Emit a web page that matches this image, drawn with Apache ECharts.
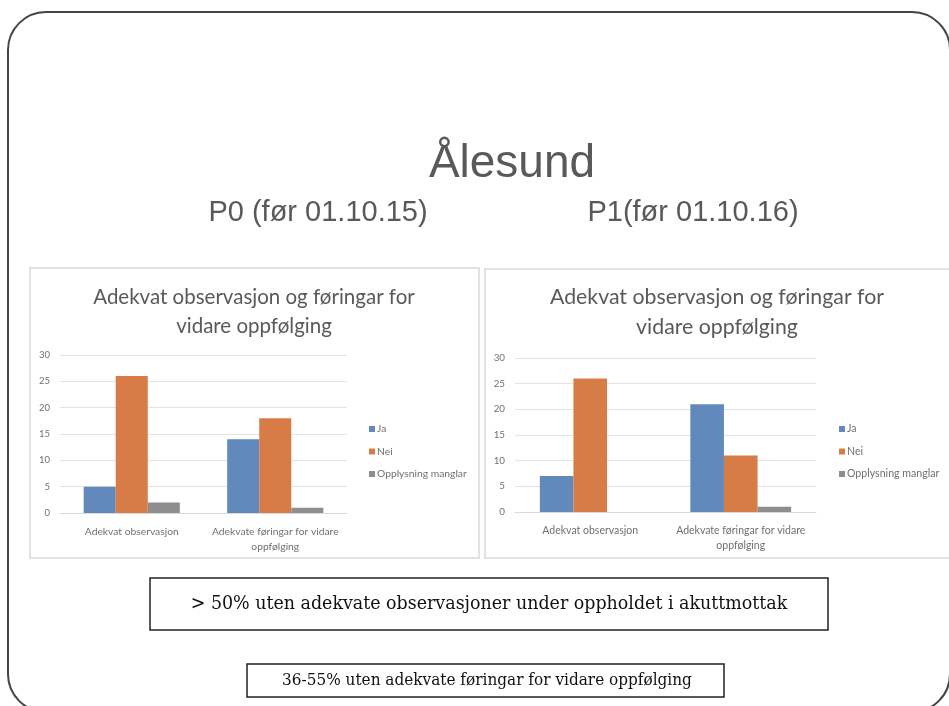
<!DOCTYPE html>
<html>
<head>
<meta charset="utf-8">
<script src="https://cdn.jsdelivr.net/npm/echarts@6/dist/echarts.min.js"></script>
<style>
  html, body { margin: 0; padding: 0; background: #fff; }
  #main { width: 949px; height: 706px; }
</style>
</head>
<body>
<div id="main"></div>
<script>
// Categories and series shared by both panels
const categories = ['Adekvat observasjon', 'Adekvate føringar for vidare\noppfølging'];
const seriesNames = ['Ja', 'Nei', 'Opplysning manglar'];
const seriesColors = ['#6189bb', '#d87c47', '#8e8e8e'];

// P0 (før 01.10.15)
const p0Ja = [5, 14];
const p0Nei = [26, 18];
const p0Manglar = [2, 1];

// P1 (før 01.10.16)
const p1Ja = [7, 21];
const p1Nei = [26, 11];
const p1Manglar = [0, 1];

// Value axis
const yMin = 0;
const yMax = 30;
const yStep = 5;

const chartTitle = ['Adekvat observasjon og føringar for', 'vidare oppfølging'];
const heading = 'Ålesund';
const periodLabels = ['P0 (før 01.10.15)', 'P1(før 01.10.16)'];
const notes = [
  '> 50% uten adekvate observasjoner under oppholdet i akuttmottak',
  '36-55% uten adekvate føringar for vidare oppfølging'
];

const chart = echarts.init(document.getElementById('main'), null, { renderer: 'canvas' });

const labelColor = '#707070';
const uiFont = 'Lato, "Open Sans", sans-serif';
const noteFont = '"DejaVu Serif Condensed", "DejaVu Serif", serif';

function grid(left, right, top, bottom) {
  return { left, right, top, bottom, containLabel: false };
}

function xAxis(gridIndex, size) {
  return {
    type: 'category',
    gridIndex,
    data: categories,
    axisLine: { show: true, lineStyle: { color: '#d9d9d9', width: 1 } },
    axisTick: { show: false },
    axisLabel: { color: labelColor, fontSize: size, fontFamily: uiFont, margin: 11, lineHeight: 15, interval: 0 }
  };
}

function yAxis(gridIndex, size) {
  return {
    type: 'value',
    gridIndex,
    min: yMin,
    max: yMax,
    interval: yStep,
    axisLine: { show: false },
    axisTick: { show: false },
    splitLine: { lineStyle: { color: '#e3e3e3', width: 1 } },
    axisLabel: { color: labelColor, fontSize: size, fontFamily: uiFont, margin: 10 }
  };
}

function bars(values, idx, axisIndex) {
  return {
    type: 'bar',
    name: seriesNames[idx],
    xAxisIndex: axisIndex,
    yAxisIndex: axisIndex,
    data: values,
    barGap: '0%',
    barCategoryGap: '33%',
    itemStyle: { color: seriesColors[idx] },
    emphasis: { disabled: true }
  };
}

function legend(left, top, size) {
  return {
    orient: 'vertical',
    left, top,
    itemWidth: 6,
    itemHeight: 6,
    itemGap: 10.5,
    icon: 'rect',
    selectedMode: false,
    textStyle: { color: labelColor, fontSize: size, fontFamily: uiFont, lineHeight: 12, padding: [0, 0, 0, -3] },
    data: seriesNames
  };
}

function textEl(x, y, text, size) {
  return {
    type: 'text',
    x, y,
    silent: true,
    style: {
      text,
      fill: '#595959',
      font: size + 'px ' + uiFont,
      align: 'center',
      verticalAlign: 'middle'
    }
  };
}

const option = {
  animation: false,
  color: seriesColors,
  grid: [grid(60, 949 - 347, 355, 706 - 513), grid(515, 949 - 816, 358, 706 - 512)],
  xAxis: [xAxis(0, 10.3), xAxis(1, 10.5)],
  yAxis: [yAxis(0, 9.5), yAxis(1, 9.8)],
  legend: [legend(364, 418, 10.3), legend(834, 418, 10.6)],
  series: [
    bars(p0Ja, 0, 0), bars(p0Nei, 1, 0), bars(p0Manglar, 2, 0),
    bars(p1Ja, 0, 1), bars(p1Nei, 1, 1), bars(p1Manglar, 2, 1)
  ],
  graphic: [
    // slide frame
    { type: 'rect', shape: { x: 8, y: 12, width: 942, height: 700, r: 38 },
      style: { fill: 'none', stroke: '#454545', lineWidth: 2 }, silent: true, z: -10 },
    // chart panel frames
    { type: 'rect', shape: { x: 30, y: 268, width: 449, height: 290 },
      style: { fill: 'none', stroke: '#d9d9d9', lineWidth: 1.5 }, silent: true, z: -5 },
    { type: 'rect', shape: { x: 485, y: 269, width: 480, height: 289 },
      style: { fill: 'none', stroke: '#d9d9d9', lineWidth: 1.5 }, silent: true, z: -5 },
    // headings
    { type: 'text', x: 512, y: 164, silent: true,
      style: { text: heading, fill: '#595959', font: '46px "Liberation Sans", Arial, sans-serif', align: 'center', verticalAlign: 'middle' } },
    { type: 'text', x: 318, y: 213, silent: true,
      style: { text: periodLabels[0], fill: '#595959', font: '29px "Liberation Sans", Arial, sans-serif', align: 'center', verticalAlign: 'middle' } },
    { type: 'text', x: 693, y: 213, silent: true,
      style: { text: periodLabels[1], fill: '#595959', font: '29px "Liberation Sans", Arial, sans-serif', align: 'center', verticalAlign: 'middle' } },
    // chart titles
    textEl(254, 297, chartTitle[0], 20.5),
    textEl(254, 326, chartTitle[1], 20.5),
    textEl(717, 297, chartTitle[0], 21.3),
    textEl(717, 327, chartTitle[1], 21.3),
    // note boxes
    { type: 'rect', shape: { x: 150, y: 578, width: 678, height: 52 },
      style: { fill: '#fff', stroke: '#222', lineWidth: 1.5 }, silent: true },
    { type: 'text', x: 489, y: 604, silent: true,
      style: { text: notes[0], fill: '#111', font: '19.4px ' + noteFont, align: 'center', verticalAlign: 'middle' } },
    { type: 'rect', shape: { x: 247, y: 664, width: 477, height: 33 },
      style: { fill: '#fff', stroke: '#222', lineWidth: 1.5 }, silent: true },
    { type: 'text', x: 487, y: 681, silent: true,
      style: { text: notes[1], fill: '#111', font: '17px ' + noteFont, align: 'center', verticalAlign: 'middle' } }
  ]
};

chart.setOption(option);
</script>
</body>
</html>
